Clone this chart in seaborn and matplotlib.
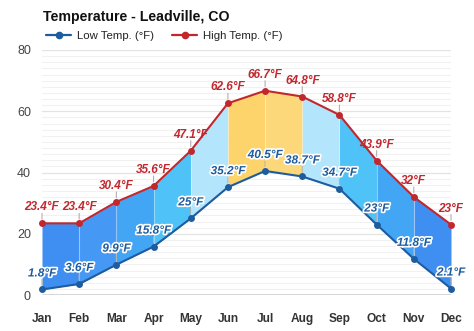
import matplotlib
matplotlib.use("Agg")
import matplotlib.pyplot as plt
import matplotlib.patheffects as pe
from matplotlib.lines import Line2D
import seaborn as sns
import pandas as pd
import numpy as np

months = ["Jan", "Feb", "Mar", "Apr", "May", "Jun", "Jul", "Aug", "Sep", "Oct", "Nov", "Dec"]
low_temp = [1.8, 3.6, 9.9, 15.8, 25, 35.2, 40.5, 38.7, 34.7, 23, 11.8, 2.1]
high_temp = [23.4, 23.4, 30.4, 35.6, 47.1, 62.6, 66.7, 64.8, 58.8, 43.9, 32, 23]
low_labels = ["1.8°F", "3.6°F", "9.9°F", "15.8°F", "25°F", "35.2°F", "40.5°F", "38.7°F", "34.7°F", "23°F", "11.8°F", "2.1°F"]
high_labels = ["23.4°F", "23.4°F", "30.4°F", "35.6°F", "47.1°F", "62.6°F", "66.7°F", "64.8°F", "58.8°F", "43.9°F", "32°F", "23°F"]
segment_colors = ["#3f8ff2", "#4598f4", "#43a6f5", "#4fc3f7", "#b3e5fc", "#fdd36c",
                  "#fdd87a", "#b3e5fc", "#4fc3f7", "#43a6f5", "#3f8ff2"]
yticks = [0, 20, 40, 60, 80]

sns.set_theme(style="white")
plt.rcParams['font.family'] = ['Liberation Sans', 'DejaVu Sans']

df = pd.DataFrame({"x": np.arange(len(months)), "month": months,
                   "low": low_temp, "high": high_temp})

fig = plt.figure(figsize=(4.74, 3.31), dpi=100)
ax = fig.add_axes([42 / 474, 36 / 331, (451 - 42) / 474, (295 - 50) / 331])

# grid
for v in np.arange(0, 81, 2):
    if v % 20 == 0:
        continue
    ax.axhline(v, color="#f1f1f1", lw=0.8, zorder=0)
for v in yticks[1:]:
    ax.axhline(v, color="#e3e3e3", lw=0.9, zorder=0)

# fills
for i in range(len(months) - 1):
    ax.fill_between(df["x"].iloc[i:i + 2], df["low"].iloc[i:i + 2], df["high"].iloc[i:i + 2],
                    color=segment_colors[i], lw=0, zorder=1)
# subtle vertical separators
for i in range(1, len(months) - 1):
    ax.plot([i, i], [low_temp[i], high_temp[i]], color="white", alpha=0.35, lw=0.8, zorder=1.5)

sns.lineplot(data=df, x="x", y="low", ax=ax, color="#1d5c9e", lw=1.5, marker="o",
             markersize=5, markeredgewidth=0, zorder=3, clip_on=False)
sns.lineplot(data=df, x="x", y="high", ax=ax, color="#c1272d", lw=1.5, marker="o",
             markersize=5, markeredgewidth=0, zorder=3, clip_on=False)

ax.axhline(0, color="#333333", lw=1.0, zorder=2)

# labels
for i in range(len(months)):
    for val, lab, col, stroke in ((high_temp[i], high_labels[i], "#c1272d", False),
                                  (low_temp[i], low_labels[i], "#1d5c9e", True)):
        ax.annotate("", xy=(i, val), xytext=(0, 10), textcoords="offset pixels",
                    arrowprops=dict(arrowstyle="-", color="#b0b0b0", lw=0.8,
                                    shrinkA=0, shrinkB=3), zorder=2.5)
        t = ax.annotate(lab, xy=(i, val), xytext=(0, 16), textcoords="offset pixels",
                        ha="center", va="center", fontsize=8.5, fontweight="bold",
                        fontstyle="italic", color=col, zorder=4, annotation_clip=False)
        if stroke:
            t.set_path_effects([pe.withStroke(linewidth=2.4, foreground="white")])

ax.set_xlim(0, 11)
ax.set_ylim(0, 80)
ax.set_xticks(df["x"])
ax.set_xticklabels(months, fontsize=8.6, fontweight="bold", color="#333333")
ax.set_yticks(yticks)
ax.set_yticklabels([str(v) for v in yticks], fontsize=9, color="#444444")
ax.tick_params(axis="x", length=0, pad=13)
ax.tick_params(axis="y", length=0, pad=8)
ax.set_xlabel("")
ax.set_ylabel("")
for s in ax.spines.values():
    s.set_visible(False)

fig.text(43 / 474, 1 - 17 / 331, "Temperature - Leadville, CO", fontsize=10.2,
         fontweight="bold", color="#111111", va="center", ha="left")

handles = [Line2D([0], [0], color="#1d5c9e", lw=1.6, marker="o", markersize=4.5),
           Line2D([0], [0], color="#c1272d", lw=1.6, marker="o", markersize=4.5)]
fig.legend(handles, ["Low Temp. (°F)", "High Temp. (°F)"], loc="center left",
           bbox_to_anchor=(36 / 474, 1 - 36 / 331), ncol=2, frameon=False,
           fontsize=8.2, handlelength=2.2, handletextpad=0.5, columnspacing=1.6,
           labelcolor="#222222")

fig.savefig("out.png", dpi=100)
